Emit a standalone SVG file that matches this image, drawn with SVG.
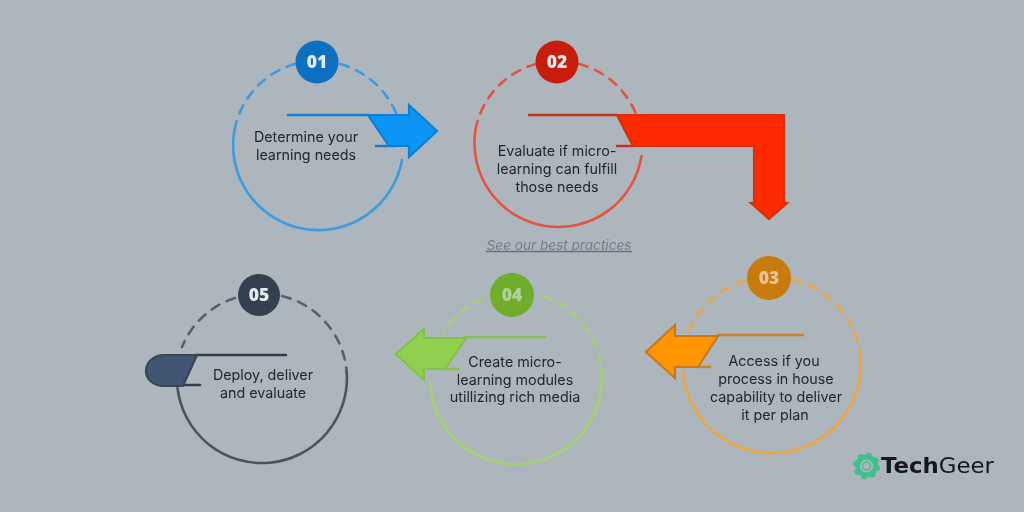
<svg xmlns="http://www.w3.org/2000/svg" width="1024" height="512" viewBox="0 0 1024 512">
<style>
.lbl{font-family:Inter,"Liberation Sans",sans-serif;font-size:14.3px;fill:#22262c;text-anchor:middle}
.num{font-family:"Open Sans","DejaVu Sans",sans-serif;font-size:17.500px;font-weight:800;fill:#e4e9ee;text-anchor:middle}
.ring{fill:none;stroke-width:2.6;stroke-linecap:round}
.dash{stroke-dasharray:9 8}
.line{fill:none;stroke-width:2.6;stroke-linecap:round}
.arrow{stroke-width:2.2;stroke-linejoin:miter}
</style>
<defs><filter id="soft" x="-2%" y="-2%" width="104%" height="104%"><feGaussianBlur stdDeviation="0.55"/></filter></defs>
<rect width="1024" height="512" fill="#adb5bd"/>
<g filter="url(#soft)">
<g id="node-1">
<path class="ring dash" stroke="#3d9be0" d="M340 64A85 85 0 0 1 396 113M295 64A85 85 0 0 0 234.500 130"/>
<path class="ring" stroke="#3d9be0" d="M234.500 130A85 85 0 1 0 402 160"/>
<circle cx="317" cy="62" r="21.500" fill="#0f70c0"/><text class="num" x="317" y="68">01</text>
<text class="lbl"><tspan x="306" y="142">Determine your</tspan><tspan x="306" y="160">learning needs</tspan></text>
</g>
<g id="node-2">
<path class="ring dash" stroke="#e5533d" d="M579 64A84 84 0 0 1 636 114M536 64A84 84 0 0 0 475.500 130"/>
<path class="ring" stroke="#e5533d" d="M475.500 130A84 84 0 1 0 641.500 156"/>
<circle cx="557" cy="62" r="21.500" fill="#c81e0a"/><text class="num" x="557" y="68">02</text>
<text class="lbl"><tspan x="557" y="156">Evaluate if micro-</tspan><tspan x="557" y="174">learning can fulfill</tspan><tspan x="557" y="192">those needs</tspan></text>
</g>
<text x="559" y="250" font-family="Inter,'Liberation Sans',sans-serif" font-size="13.600" font-style="italic" fill="#767d85" text-anchor="middle">See our best practices</text>
<path d="M486 251.500H632" stroke="#6a7078" stroke-width="1.300" fill="none"/>
<g id="node-3">
<path class="ring dash" stroke="#f0a53c" d="M793 279.500A89 89 0 0 1 860.400 356M745 281A89 89 0 0 0 688 333"/>
<path class="ring" stroke="#f0a53c" d="M860.400 356A89 89 0 1 1 683 372"/>
<circle cx="769" cy="278" r="22" fill="#c87a0a"/><text class="num" x="769" y="284" style="fill:#e6c596">03</text>
<text class="lbl"><tspan x="774" y="366">Access if you</tspan><tspan x="776" y="384">process in house</tspan><tspan x="776" y="402">capability to deliver</tspan><tspan x="775" y="420">it per plan</tspan></text>
</g>
<g id="node-4">
<path class="ring dash" stroke="#a2d46c" d="M542 296.200A86 86 0 0 1 601.400 368M483 298.600A86 86 0 0 0 443 333"/>
<path class="ring" stroke="#a2d46c" d="M601.400 368A86 86 0 1 1 430.100 382"/>
<circle cx="512" cy="295" r="22" fill="#70ad2c"/><text class="num" x="512" y="301" style="fill:#b4d09c">04</text>
<text class="lbl"><tspan x="515" y="367">Create micro-</tspan><tspan x="515" y="385">learning modules</tspan><tspan x="515" y="402">utillizing rich media</tspan></text>
</g>
<g id="node-5">
<path class="ring dash" stroke="#5a6068" d="M282 296A85 85 0 0 1 346.700 372M235 298A85 85 0 0 0 182 347"/>
<path class="ring" stroke="#4d535b" d="M346.700 372A85 85 0 0 1 177.500 388"/>
<circle cx="259" cy="295" r="21" fill="#333f50"/><text class="num" x="259" y="301">05</text>
<text class="lbl"><tspan x="263" y="380">Deploy, deliver</tspan><tspan x="263" y="398">and evaluate</tspan></text>
</g>
<g id="connectors">
<g id="connector-1"><path class="line" stroke="#1d78c8" d="M288 115H368M376 146H395"/><path class="arrow" fill="#0a94f7" stroke="#1180d6" d="M368 115H409V105L437 131L409 157V146H389Z"/></g>
<g id="connector-2"><path class="line" stroke="#c8301a" d="M529 115H617M617 146H633"/><path class="arrow" fill="#ff2a00" stroke="#d4300f" d="M617 115H784V203H787L769 219L751 203H754V146H633Z"/></g>
<g id="connector-3"><path class="line" stroke="#c9832a" d="M718 335H803M698 367H710"/><path class="arrow" fill="#ff9500" stroke="#c9791a" d="M718 336H675V325L646 352L675 378V367H698Z"/></g>
<g id="connector-4"><path class="line" stroke="#86c250" d="M466 337H545M445 369H458"/><path class="arrow" fill="#8fd14f" stroke="#7fc445" d="M466 338H424V329L396 354L424 380V369H445Z"/></g>
<g id="connector-5"><path class="line" stroke="#343d49" d="M195 355H286M184 385H200"/><path class="arrow" fill="#3f5673" stroke="#3a4450" d="M197 355H164C153 355 146 363 146 371C146 379 153 386 164 386H183Z"/></g>
</g>
<g id="logo">
<circle cx="866.500" cy="466" r="9" fill="none" stroke="#3fbf8c" stroke-width="5"/>
<circle cx="866.500" cy="466" r="11.500" fill="none" stroke="#3fbf8c" stroke-width="4" stroke-dasharray="4.500 4.530"/>
<circle cx="866.500" cy="466" r="4" fill="none" stroke="#3fbf8c" stroke-width="1.500"/>
<text x="881" y="473" font-family="'DejaVu Sans',sans-serif" font-size="22" textLength="113" lengthAdjust="spacingAndGlyphs" fill="#14161a"><tspan font-weight="700">Tech</tspan><tspan font-weight="400">Geer</tspan></text>
</g>
</g>
</svg>
